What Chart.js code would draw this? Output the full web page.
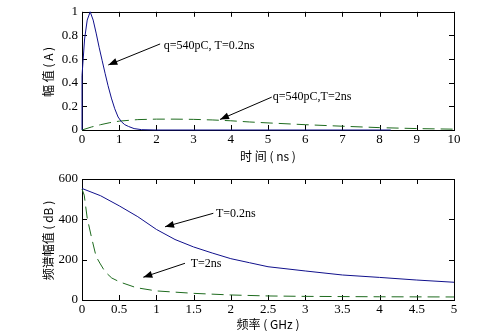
<!DOCTYPE html>
<html>
<head>
<meta charset="utf-8">
<script src="https://cdn.jsdelivr.net/npm/chart.js@4.4.1/dist/chart.umd.min.js"></script>
<style>
  html, body { margin: 0; padding: 0; background: #fff; }
  #wrap { position: relative; width: 492px; height: 331px; overflow: hidden; }
  canvas { position: absolute; left: 0; }
</style>
</head>
<body>
<div id="wrap">
  <canvas id="pulseChart" width="492" height="165" style="top:0"></canvas>
  <canvas id="specChart" width="492" height="166" style="top:165px"></canvas>
</div>
<script>
// ---- datos: pulso en el tiempo (ns, A)
const pulseTimeFast = [0, 0, 0.07, 0.14, 0.22, 0.3, 0.38, 0.46, 0.54, 0.62, 0.7, 0.79, 0.88, 0.97, 1.06, 1.15, 1.25, 1.4, 1.6, 2, 3, 4, 5, 6, 7, 8.3];
const pulseAmpFast  = [0, 0.46, 0.77, 0.93, 1.0, 0.93, 0.82, 0.7, 0.59, 0.48, 0.375, 0.27, 0.18, 0.11, 0.07, 0.045, 0.03, 0.012, 0.003, 0, 0, 0, 0, 0, 0, 0];
const pulseTimeSlow = [0, 0.25, 0.5, 0.75, 1, 1.5, 2, 2.5, 3, 3.5, 4, 4.5, 5, 6, 7, 8, 9, 10];
const pulseAmpSlow  = [0, 0.025, 0.045, 0.062, 0.075, 0.088, 0.092, 0.092, 0.09, 0.085, 0.078, 0.068, 0.06, 0.045, 0.032, 0.02, 0.012, 0.007];

// ---- datos: espectro (GHz, dB)
const specFreqFast = [0, 0.25, 0.5, 0.75, 1, 1.25, 1.5, 1.75, 2, 2.25, 2.5, 3, 3.5, 4, 4.5, 5];
const specAmpFast  = [553, 517, 467, 413, 350, 300, 263, 233, 205, 185, 165, 144, 124, 112, 99, 88];
const specFreqSlow = [0, 0.03, 0.07, 0.13, 0.19, 0.24, 0.31, 0.4, 0.51, 0.73, 1, 1.5, 2, 2.5, 3, 4, 5];
const specAmpSlow  = [550, 520, 406, 307, 215, 183, 140, 109, 89, 61, 45, 33, 25, 20, 18, 16, 15];

// ---- ejes / etiquetas
const pulseXTitle = "时 间 ( ns )";
const pulseYTitle = "幅 值 ( A )";
const specXTitle = "频率 ( GHz )";
const specYTitle = "频谱幅值 ( dB )";

const pulseNotes = [
    { text: "q=540pC, T=0.2ns", tip: [0.707, 0.55], tail: [2.1, 0.728], at: [2.2, 0.708] },
    { text: "q=540pC,T=2ns", tip: [3.71, 0.089], tail: [5.1, 0.278], at: [5.13, 0.283] }
];
const specNotes = [
    { text: "T=0.2ns", tip: [1.116, 363], tail: [1.765, 430], at: [1.8, 426] },
    { text: "T=2ns", tip: [0.824, 113], tail: [1.384, 182], at: [1.461, 178] }
];

const BLUE = "#10108c";
const GREEN = "#1e6b1e";
const SERIF = "'Liberation Serif', 'Times New Roman', serif";
const CJK = "'Noto Sans CJK SC', sans-serif";

const toPoints = (xs, ys) => xs.map((x, i) => ({ x: x, y: ys[i] }));
const plainNum = v => String(Number(v.toFixed(3)));

// marco con ticks hacia dentro + titulos + flechas
const framePlugin = {
    id: "frame",
    beforeDatasetsDraw(chart, args, opts) {
        const { ctx, chartArea: a, scales } = chart;
        ctx.save();
        ctx.strokeStyle = "#000";
        ctx.lineWidth = 1;
        ctx.strokeRect(Math.round(a.left) + 0.5, Math.round(a.top) + 0.5,
            Math.round(a.right - a.left), Math.round(a.bottom - a.top));
        const len = 5;
        ctx.beginPath();
        scales.x.ticks.forEach(t => {
            const px = Math.round(scales.x.getPixelForValue(t.value)) + 0.5;
            ctx.moveTo(px, a.bottom); ctx.lineTo(px, a.bottom - len);
            ctx.moveTo(px, a.top); ctx.lineTo(px, a.top + len);
        });
        scales.y.ticks.forEach(t => {
            const py = Math.round(scales.y.getPixelForValue(t.value)) + 0.5;
            ctx.moveTo(a.left, py); ctx.lineTo(a.left + len, py);
            ctx.moveTo(a.right, py); ctx.lineTo(a.right - len, py);
        });
        ctx.stroke();
        ctx.restore();
    },
    afterDraw(chart, args, opts) {
        const { ctx, chartArea: a, scales } = chart;
        const sx = v => scales.x.getPixelForValue(v);
        const sy = v => scales.y.getPixelForValue(v);
        ctx.save();
        ctx.fillStyle = "#000";
        ctx.font = "12px " + CJK;
        ctx.textAlign = "center";
        ctx.textBaseline = "middle";
        ctx.fillText(opts.xTitle, (a.left + a.right) / 2, a.bottom + opts.xTitleGap);
        ctx.save();
        ctx.translate(48, (a.top + a.bottom) / 2 + opts.yTitleShift);
        ctx.rotate(-Math.PI / 2);
        ctx.fillText(opts.yTitle, 0, 0);
        ctx.restore();

        ctx.font = "12px " + SERIF;
        ctx.textAlign = "left";
        (opts.notes || []).forEach(n => {
            const x0 = sx(n.tail[0]), y0 = sy(n.tail[1]);
            const x1 = sx(n.tip[0]), y1 = sy(n.tip[1]);
            ctx.strokeStyle = "#000";
            ctx.lineWidth = 1;
            ctx.beginPath();
            ctx.moveTo(x0, y0); ctx.lineTo(x1, y1);
            ctx.stroke();
            const ang = Math.atan2(y1 - y0, x1 - x0);
            const hl = 9, hw = 3.5;
            ctx.beginPath();
            ctx.moveTo(x1, y1);
            ctx.lineTo(x1 - hl * Math.cos(ang) + hw * Math.sin(ang), y1 - hl * Math.sin(ang) - hw * Math.cos(ang));
            ctx.lineTo(x1 - hl * Math.cos(ang) - hw * Math.sin(ang), y1 - hl * Math.sin(ang) + hw * Math.cos(ang));
            ctx.closePath();
            ctx.fill();
            ctx.fillText(n.text, sx(n.at[0]), sy(n.at[1]));
        });
        ctx.restore();
    }
};

function makeChart(canvasId, cfg) {
    const ctx = document.getElementById(canvasId).getContext("2d");
    return new Chart(ctx, {
        type: "line",
        data: {
            datasets: [
                {
                    data: cfg.fast,
                    borderColor: BLUE,
                    borderWidth: 1,
                    pointRadius: 0,
                    tension: 0,
                    clip: false
                },
                {
                    data: cfg.slow,
                    borderColor: GREEN,
                    borderWidth: 1,
                    borderDash: [12, 6],
                    pointRadius: 0,
                    tension: 0,
                    clip: false
                }
            ]
        },
        options: {
            responsive: false,
            animation: false,
            devicePixelRatio: 1,
            layout: { padding: { top: cfg.padTop, right: 38, left: 0, bottom: 0 } },
            plugins: {
                legend: { display: false },
                tooltip: { enabled: false },
                frame: {
                    xTitle: cfg.xTitle,
                    yTitle: cfg.yTitle,
                    xTitleGap: cfg.xTitleGap,
                    yTitleShift: cfg.yTitleShift,
                    notes: cfg.notes
                }
            },
            scales: {
                x: {
                    type: "linear",
                    min: cfg.xMin, max: cfg.xMax,
                    grid: { display: false, drawTicks: false, tickLength: 0 },
                    border: { display: false },
                    ticks: {
                        stepSize: cfg.xStep,
                        color: "#000",
                        padding: 2,
                        maxRotation: 0,
                        font: { family: SERIF, size: 13 },
                        callback: plainNum
                    },
                    afterFit: s => { s.height = cfg.xAxisH; }
                },
                y: {
                    min: cfg.yMin, max: cfg.yMax,
                    grid: { display: false, drawTicks: false, tickLength: 0 },
                    border: { display: false },
                    ticks: {
                        stepSize: cfg.yStep,
                        color: "#000",
                        padding: 4,
                        font: { family: SERIF, size: 13 },
                        callback: plainNum
                    },
                    afterFit: s => { s.width = 82; }
                }
            }
        },
        plugins: [framePlugin]
    });
}

makeChart("pulseChart", {
    fast: toPoints(pulseTimeFast, pulseAmpFast),
    slow: toPoints(pulseTimeSlow, pulseAmpSlow),
    xMin: 0, xMax: 10, xStep: 1,
    yMin: 0, yMax: 1, yStep: 0.2,
    padTop: 10, xAxisH: 35,
    xTitle: pulseXTitle, yTitle: pulseYTitle,
    xTitleGap: 26, yTitleShift: 1,
    notes: pulseNotes
});

makeChart("specChart", {
    fast: toPoints(specFreqFast, specAmpFast),
    slow: toPoints(specFreqSlow, specAmpSlow),
    xMin: 0, xMax: 5, xStep: 0.5,
    yMin: 0, yMax: 600, yStep: 200,
    padTop: 14, xAxisH: 31,
    xTitle: specXTitle, yTitle: specYTitle,
    xTitleGap: 24, yTitleShift: 1,
    notes: specNotes
});
</script>
</body>
</html>
